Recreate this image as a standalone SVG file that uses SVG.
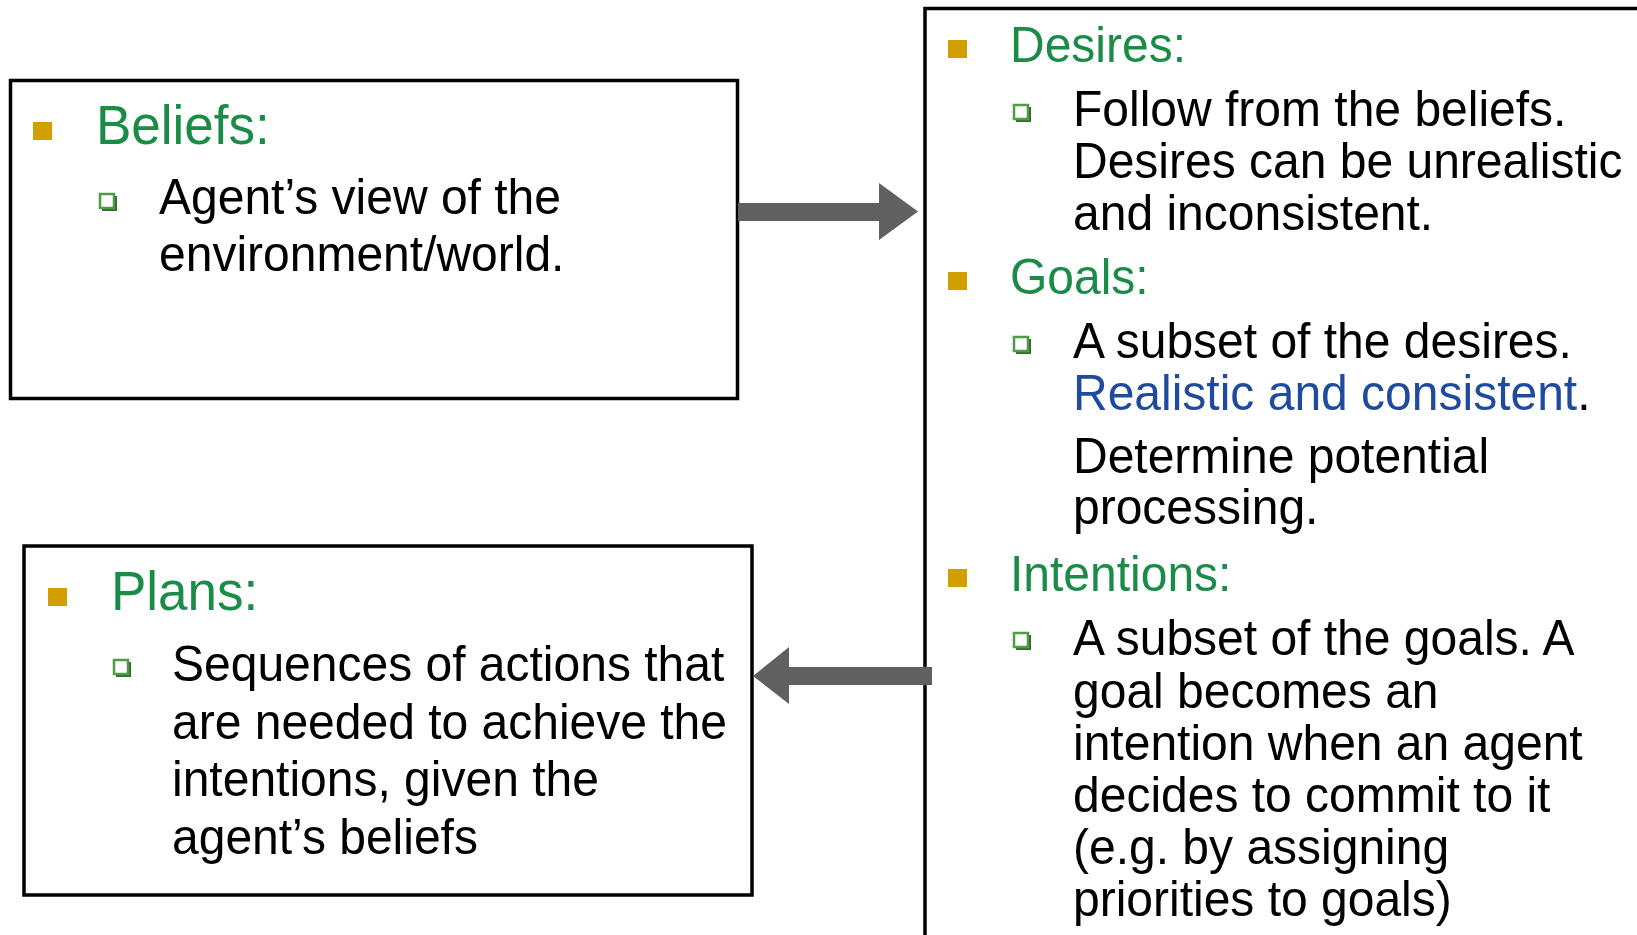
<svg xmlns="http://www.w3.org/2000/svg" width="1637" height="935" viewBox="0 0 1637 935">
  <defs>
    <style>
      .box { fill: #ffffff; stroke: #000000; stroke-width: 3.5; }
      .head { font-family: "Liberation Sans", Arial, Helvetica, sans-serif; fill: #1b8c48; }
      .body { font-family: "Liberation Sans", Arial, Helvetica, sans-serif; font-size: 48px; fill: #000000; }
      .blue { fill: #1f4b9e; }
      .bullet { fill: #d29f00; }
      .sub { fill: #ffffff; stroke: #4f9a45; stroke-width: 2.5; }
      .subshade { fill: none; stroke: #2f6f2a; stroke-width: 2; }
      .arrow { fill: #606060; }
    </style>
    <!-- hollow second-level bullet, about 15 x 15 -->
    <g id="subBullet">
      <path class="subshade" d="M2 16 H16 V2"/>
      <rect class="sub" x="0" y="0" width="14" height="14"/>
    </g>
  </defs>

  <rect width="1637" height="935" fill="#ffffff"/>

  <!-- Beliefs (text glyphs are drawn slightly tall: matrix scales y by 1.06) -->
  <g id="beliefs">
    <rect class="box" x="10.5" y="80.5" width="727" height="318"/>
    <rect class="bullet" x="33" y="122" width="19" height="18"/>
    <text class="head" transform="matrix(1 0 0 1.06 96 144)" font-size="53">Beliefs:</text>
    <use href="#subBullet" x="100" y="194"/>
    <text class="body" transform="matrix(1 0 0 1.06 159 214)">Agent’s view of the</text>
    <text class="body" transform="matrix(1 0 0 1.06 159 271)">environment/world.</text>
  </g>

  <!-- Plans -->
  <g id="plans">
    <rect class="box" x="24" y="546" width="728" height="349"/>
    <rect class="bullet" x="48" y="588" width="19" height="18"/>
    <text class="head" transform="matrix(1 0 0 1.06 111 610)" font-size="53">Plans:</text>
    <use href="#subBullet" x="114" y="660"/>
    <text class="body" transform="matrix(1 0 0 1.06 172 681)">Sequences of actions that</text>
    <text class="body" transform="matrix(1 0 0 1.06 172 739)">are needed to achieve the</text>
    <text class="body" transform="matrix(1 0 0 1.06 172 796)">intentions, given the</text>
    <text class="body" transform="matrix(1 0 0 1.06 172 854)">agent’s beliefs</text>
  </g>

  <!-- Desires / Goals / Intentions -->
  <g id="dgi">
    <rect class="box" x="925" y="8.5" width="800" height="1000"/>

    <rect class="bullet" x="948" y="40" width="19" height="18"/>
    <text class="head" transform="matrix(1 0 0 1.06 1010 62)" font-size="48">Desires:</text>
    <use href="#subBullet" x="1014" y="105"/>
    <text class="body" transform="matrix(1 0 0 1.06 1073 126)">Follow from the beliefs.</text>
    <text class="body" transform="matrix(1 0 0 1.06 1073 178)">Desires can be unrealistic</text>
    <text class="body" transform="matrix(1 0 0 1.06 1073 230)">and inconsistent.</text>

    <rect class="bullet" x="948" y="272" width="19" height="18"/>
    <text class="head" transform="matrix(1 0 0 1.06 1010 294)" font-size="48">Goals:</text>
    <use href="#subBullet" x="1014" y="337"/>
    <text class="body" transform="matrix(1 0 0 1.06 1073 358)">A subset of the desires.</text>
    <text class="body" transform="matrix(1 0 0 1.06 1073 410)"><tspan class="blue">Realistic and consistent</tspan>.</text>
    <text class="body" transform="matrix(1 0 0 1.06 1073 473)">Determine potential</text>
    <text class="body" transform="matrix(1 0 0 1.06 1073 524)">processing.</text>

    <rect class="bullet" x="948" y="569" width="19" height="18"/>
    <text class="head" transform="matrix(1 0 0 1.06 1010 591)" font-size="48">Intentions:</text>
    <use href="#subBullet" x="1014" y="633"/>
    <text class="body" transform="matrix(1 0 0 1.06 1073 655)">A subset of the goals. A</text>
    <text class="body" transform="matrix(1 0 0 1.06 1073 708)">goal becomes an</text>
    <text class="body" transform="matrix(1 0 0 1.06 1073 760)">intention when an agent</text>
    <text class="body" transform="matrix(1 0 0 1.06 1073 812)">decides to commit to it</text>
    <text class="body" transform="matrix(1 0 0 1.06 1073 864)">(e.g. by assigning</text>
    <text class="body" transform="matrix(1 0 0 1.06 1073 916)">priorities to goals)</text>
  </g>

  <!-- connectors -->
  <g id="connectors">
    <polygon class="arrow" points="738,203 879,203 879,183 918,211.5 879,240 879,221 738,221"/>
    <polygon class="arrow" points="932,667 789,667 789,647 753,676 789,704 789,685 932,685"/>
  </g>
</svg>
